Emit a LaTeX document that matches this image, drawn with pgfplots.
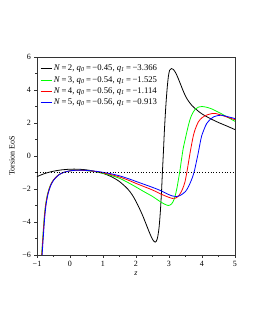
\documentclass[border=0pt]{standalone}
\usepackage{fontspec}
\setmainfont{Liberation Serif}
\usepackage{pgfplots}
\pgfplotsset{compat=1.18}
\begin{document}
\begin{tikzpicture}
\begin{axis}[
  scale only axis,
  width=198pt, height=198pt,
  xmin=-1, xmax=5, ymin=-6, ymax=6,
  xtick={-1,0,1,2,3,4,5},
  xticklabels={−1,0,1,2,3,4,5},
  ytick={-6,-4,-2,0,2,4,6},
  yticklabels={−6,−4,−2,0,2,4,6},
  minor x tick num=1,
  minor y tick num=1,
  tick pos=left,
  tick align=outside,
  major tick length=2.5pt,
  minor tick length=1.5pt,
  ticklabel style={font=\fontsize{8}{9}\selectfont},
  /pgf/number format/assume math mode=true,
  xlabel={\textit{z}},
  ylabel={Torsion EoS},
  label style={font=\fontsize{8}{9}\selectfont},
  xlabel style={yshift=1pt},
  ylabel style={yshift=1pt},
  axis line style={line width=0.6pt, black!80},
  every tick/.style={black!80, line width=0.5pt},
  legend cell align=left,
  legend style={draw=none, fill=none, at={(0.01,0.975)}, anchor=north west,
    font=\fontsize{8.7}{9.7}\selectfont, row sep=0pt, inner sep=1pt},
  legend image code/.code={\draw[#1] (0pt,0pt) -- (11pt,0pt);},
  every axis plot/.append style={line width=0.8pt},
]
\addplot[black, smooth] coordinates {
(-1.0,-1.25) (-0.75,-1.05) (-0.5,-0.92) (-0.25,-0.84) (0.0,-0.80) (0.25,-0.80)
(0.5,-0.84) (0.75,-0.93) (1.0,-1.05) (1.25,-1.25) (1.5,-1.55) (1.75,-2.0)
(1.9,-2.4) (2.05,-2.95) (2.2,-3.6) (2.32,-4.2) (2.42,-4.7) (2.5,-5.05)
(2.58,-5.22) (2.64,-5.05) (2.69,-4.5) (2.73,-3.6) (2.77,-2.3) (2.8,-1.0)
(2.83,0.2) (2.86,1.5) (2.9,2.9) (2.94,4.0) (2.98,4.8) (3.02,5.2) (3.07,5.3)
(3.13,5.25) (3.2,5.05) (3.28,4.7) (3.36,4.3) (3.45,3.85) (3.55,3.45)
(3.7,3.05) (3.85,2.78) (4.0,2.55) (4.25,2.27) (4.5,2.03) (4.75,1.82) (5.0,1.6)
};
\addlegendentry{\textit{N}\,=\,2, \textit{q}\textsubscript{\textit{0}}\,=\,−0.45, \textit{q}\textsubscript{\textit{1}}\,=\,−3.366}
\addplot[green, smooth] coordinates {
(-0.86,-6) (-0.82,-4.8) (-0.78,-3.7) (-0.74,-2.95) (-0.68,-2.3) (-0.6,-1.8)
(-0.5,-1.45) (-0.35,-1.15) (-0.2,-1.0) (0.0,-0.9) (0.2,-0.86) (0.4,-0.87)
(0.6,-0.91) (0.8,-0.97) (1.0,-1.05) (1.25,-1.18) (1.5,-1.35) (1.75,-1.6)
(2.0,-1.88) (2.25,-2.17) (2.5,-2.45) (2.7,-2.72) (2.85,-2.9) (2.98,-3.0)
(3.08,-2.9) (3.16,-2.6) (3.23,-2.05) (3.28,-1.5) (3.33,-0.9) (3.38,-0.2)
(3.43,0.45) (3.49,1.0) (3.54,1.45) (3.6,1.95) (3.66,2.35) (3.73,2.65)
(3.8,2.85) (3.9,2.97) (4.0,3.0) (4.15,2.95) (4.3,2.85) (4.45,2.7) (4.6,2.55)
(4.8,2.32) (5.0,2.1)
};
\addlegendentry{\textit{N}\,=\,3, \textit{q}\textsubscript{\textit{0}}\,=\,−0.54, \textit{q}\textsubscript{\textit{1}}\,=\,−1.525}
\addplot[red, smooth] coordinates {
(-0.855,-6) (-0.815,-4.8) (-0.775,-3.7) (-0.735,-2.95) (-0.675,-2.3) (-0.595,-1.8)
(-0.5,-1.45) (-0.35,-1.15) (-0.2,-1.0) (0.0,-0.9) (0.2,-0.86) (0.4,-0.87)
(0.6,-0.9) (0.8,-0.95) (1.0,-1.02) (1.25,-1.13) (1.5,-1.27) (1.75,-1.45)
(2.0,-1.66) (2.25,-1.86) (2.5,-2.06) (2.75,-2.3) (2.95,-2.47) (3.1,-2.57)
(3.2,-2.55) (3.3,-2.4) (3.4,-2.05) (3.48,-1.6) (3.54,-1.0) (3.59,-0.4)
(3.64,0.2) (3.69,0.75) (3.74,1.25) (3.8,1.65) (3.89,2.07) (4.0,2.32)
(4.14,2.48) (4.3,2.57) (4.4,2.58) (4.55,2.5) (4.7,2.4) (4.85,2.3) (5.0,2.2)
};
\addlegendentry{\textit{N}\,=\,4, \textit{q}\textsubscript{\textit{0}}\,=\,−0.56, \textit{q}\textsubscript{\textit{1}}\,=\,−1.114}
\addplot[blue, smooth] coordinates {
(-0.845,-6) (-0.805,-4.8) (-0.765,-3.7) (-0.725,-2.95) (-0.665,-2.3) (-0.585,-1.8)
(-0.49,-1.45) (-0.34,-1.15) (-0.2,-1.0) (0.0,-0.9) (0.2,-0.86) (0.4,-0.86)
(0.6,-0.89) (0.8,-0.93) (1.0,-0.99) (1.25,-1.08) (1.5,-1.2) (1.75,-1.36)
(2.0,-1.54) (2.25,-1.72) (2.5,-1.9) (2.75,-2.1) (2.95,-2.3) (3.1,-2.42)
(3.22,-2.46) (3.35,-2.38) (3.5,-2.15) (3.6,-1.82) (3.7,-1.35) (3.77,-0.9)
(3.83,-0.35) (3.89,0.22) (3.94,0.75) (3.99,1.22) (4.07,1.65) (4.14,1.96)
(4.25,2.22) (4.35,2.37) (4.5,2.46) (4.6,2.47) (4.75,2.4) (5.0,2.27)
};
\addlegendentry{\textit{N}\,=\,5, \textit{q}\textsubscript{\textit{0}}\,=\,−0.56, \textit{q}\textsubscript{\textit{1}}\,=\,−0.913}
\addplot[black, dotted, line width=0.8pt, forget plot] coordinates {(-1,-1) (5,-1)};
\end{axis}
\pgfresetboundingbox
\path (-37pt,-75pt) rectangle (218pt,255pt);
\end{tikzpicture}
\end{document}
